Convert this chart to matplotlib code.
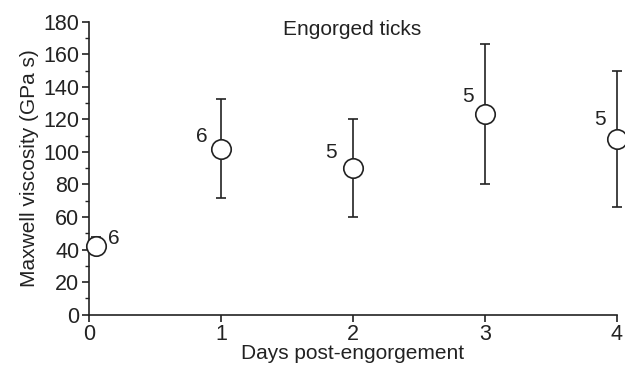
import matplotlib.pyplot as plt
from matplotlib.ticker import MultipleLocator

plt.rcParams['font.family'] = ['Liberation Sans', 'DejaVu Sans']

days = [0.05, 1, 2, 3, 4]
viscosity = [42.5, 102, 90, 123.5, 108]
err_low = [5.5, 30.5, 30.2, 43, 41.8]
err_high = [5.5, 30.5, 30.2, 43, 41.8]
n_labels = ['6', '6', '5', '5', '5']
label_offsets = [(13, 5), (-14, 9), (-16, 11), (-12, 12), (-12, 14)]

fig = plt.figure(figsize=(6.25, 3.71), dpi=100)
ax = fig.add_axes([0.1424, 0.1518, 0.8446, 0.7897])

ax.errorbar(days, viscosity, yerr=[err_low, err_high], fmt='o', color='#222222',
            markerfacecolor='white', markeredgecolor='#222222', markersize=14,
            markeredgewidth=1.2, elinewidth=1.2, capsize=3.5, capthick=1.2,
            clip_on=False, zorder=3)

for x, y, lab, off in zip(days, viscosity, n_labels, label_offsets):
    ax.annotate(lab, (x, y), xytext=off, textcoords='offset points',
                ha='center', va='center', fontsize=15, color='#222222')

ax.text(0.498, 0.972, 'Engorged ticks', transform=ax.transAxes,
        ha='center', va='center', fontsize=15, color='#222222')

ax.set_xlim(0, 4)
ax.set_ylim(0, 180)
ax.set_xticks([0, 1, 2, 3, 4])
ax.yaxis.set_major_locator(MultipleLocator(20))
ax.yaxis.set_minor_locator(MultipleLocator(10))
ax.spines['top'].set_visible(False)
ax.spines['right'].set_visible(False)
for s in ['left', 'bottom']:
    ax.spines[s].set_linewidth(1.2)
    ax.spines[s].set_color('#222222')
ax.tick_params(which='major', length=5, width=1.2, labelsize=15.5, colors='#222222', pad=2)
ax.tick_params(which='minor', length=3, width=1.0, colors='#222222')

ax.set_xlabel('Days post-engorgement', fontsize=15, color='#222222', labelpad=-1)
ax.set_ylabel('Maxwell viscosity (GPa s)', fontsize=15, color='#222222', labelpad=3)

fig.savefig('out.png', dpi=100)
